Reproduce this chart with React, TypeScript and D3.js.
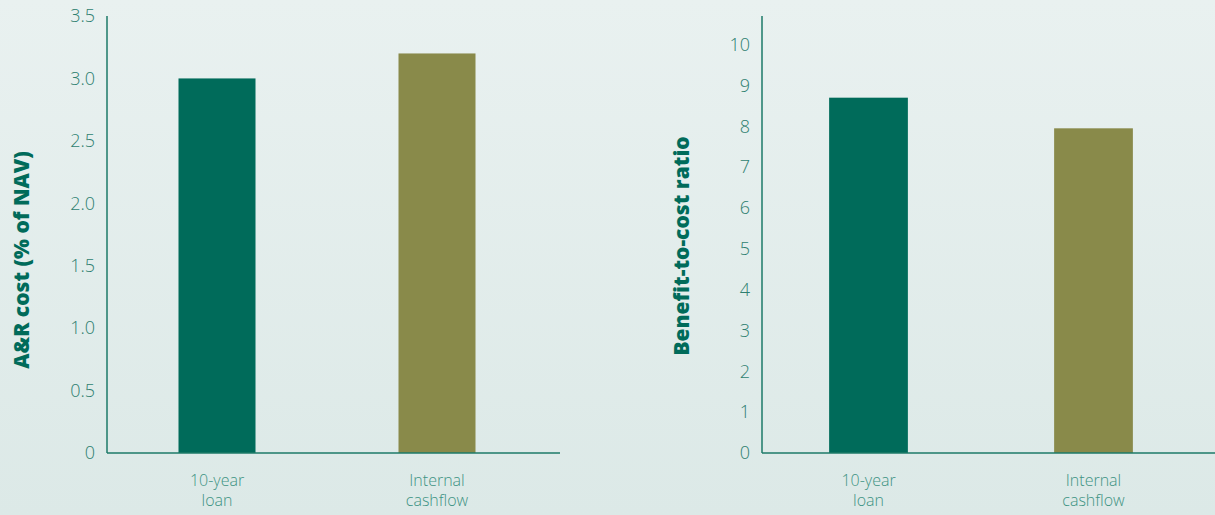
import React from "react";
import * as d3 from "d3";

const categories = ["10-year\nloan", "Internal\ncashflow"];
const costValues = [3.0, 3.2];
const ratioValues = [8.7, 7.95];
const costTicks = [0, 0.5, 1.0, 1.5, 2.0, 2.5, 3.0, 3.5];
const costTickLabels = ["0", "0.5", "1.0", "1.5", "2.0", "2.5", "3.0", "3.5"];
const ratioTicks = [0, 1, 2, 3, 4, 5, 6, 7, 8, 9, 10];
const ratioTickLabels = ["0", "1", "2", "3", "4", "5", "6", "7", "8", "9", "10"];
const barColors = ["#006b5a", "#898a4a"];
const leftTitle = "A&R cost (% of NAV)";
const rightTitle = "Benefit-to-cost ratio";

const W = 1215;
const H = 515;
const AXIS = "#1c7a69";
const TICK = "#2e7f70";
const CAT = "#3d9383";
const FONT = "'Open Sans', sans-serif";

type PanelProps = {
  axisX: number;
  endX: number;
  domainMax: number;
  values: number[];
  ticks: number[];
  tickLabels: string[];
  bandRange: [number, number];
  title: string;
  titleX: number;
  titleY: number;
};

function Panel(p: PanelProps) {
  const y0 = 453;
  const yTop = 16;
  const y = d3.scaleLinear().domain([0, p.domainMax]).range([y0, yTop]);
  const x = d3.scaleBand<string>().domain(categories).range(p.bandRange).paddingInner(0.65).paddingOuter(0.325);
  return (
    <g>
      {categories.map((c, i) => (
        <rect key={c} x={x(c)} y={y(p.values[i])} width={x.bandwidth()} height={y0 - y(p.values[i])} fill={barColors[i]} />
      ))}
      <line x1={p.axisX} x2={p.axisX} y1={yTop} y2={y0} stroke={AXIS} strokeWidth={1.5} />
      <line x1={p.axisX} x2={p.endX} y1={y0} y2={y0} stroke={AXIS} strokeWidth={1.5} />
      {p.ticks.map((t, i) => (
        <text key={t} x={p.axisX - 12} y={y(t)} dy="0.35em" textAnchor="end" fontFamily={FONT} fontWeight={300} fontSize={18} fill={TICK}>
          {p.tickLabels[i]}
        </text>
      ))}
      {categories.map((c) => {
        const cx = (x(c) as number) + x.bandwidth() / 2;
        return c.split("\n").map((line, j) => (
          <text key={c + j} x={cx} y={486 + j * 20} textAnchor="middle" fontFamily={FONT} fontWeight={300} fontSize={16} fill={CAT}>
            {line}
          </text>
        ));
      })}
      <text transform={`translate(${p.titleX},${p.titleY}) rotate(-90)`} textAnchor="middle" dy="0.35em" fontFamily={FONT} fontWeight={800} fontSize={21} fill="#006b5a">
        {p.title}
      </text>
    </g>
  );
}

export default function App() {
  return (
    <svg width={W} height={H} style={{ position: "absolute", left: 0, top: 0 }}>
      <defs>
        <linearGradient id="bg" x1="0" y1="0" x2="0" y2="1">
          <stop offset="0" stopColor="#e9f1f0" />
          <stop offset="1" stopColor="#dce9e7" />
        </linearGradient>
      </defs>
      <rect width={W} height={H} fill="url(#bg)" />
      <Panel axisX={107} endX={560} domainMax={3.5} values={costValues} ticks={costTicks} tickLabels={costTickLabels}
        bandRange={[107, 547]} title={leftTitle} titleX={22} titleY={260} />
      <Panel axisX={762} endX={1215} domainMax={10.7} values={ratioValues} ticks={ratioTicks} tickLabels={ratioTickLabels}
        bandRange={[756, 1206]} title={rightTitle} titleX={682} titleY={246} />
    </svg>
  );
}
